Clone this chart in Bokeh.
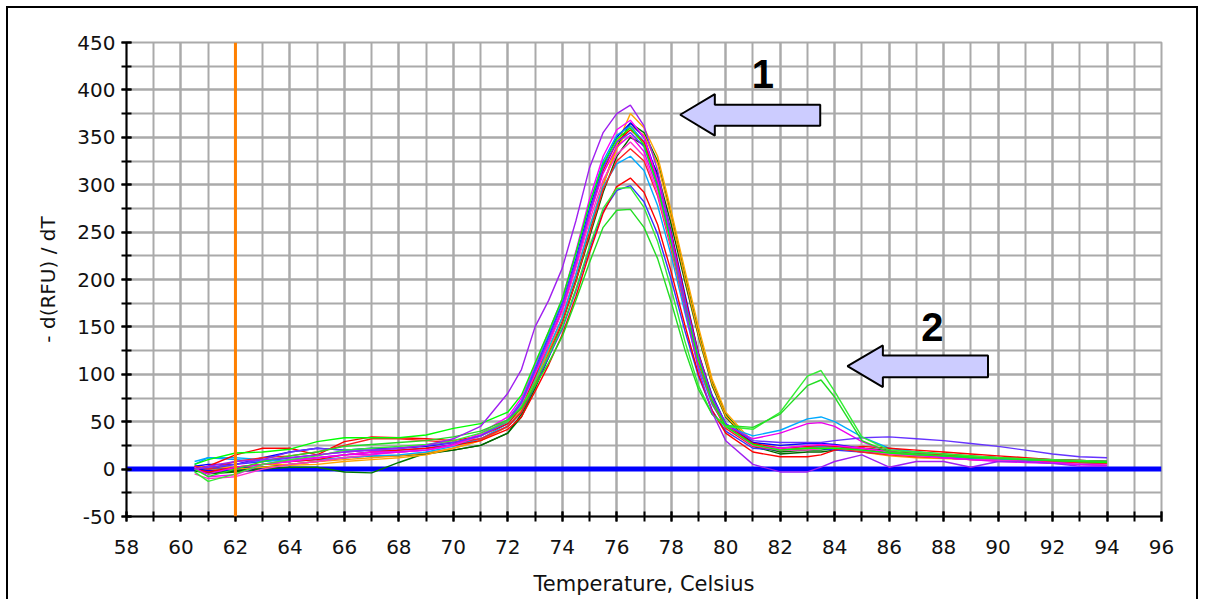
from bokeh.plotting import figure
from bokeh.models import SingleIntervalTicker, Span, Range1d
from bokeh.core.properties import value
from bokeh.embed import file_html
from bokeh.resources import INLINE

# Temperature points (deg C)
temps = [60.5, 61, 62, 63, 64, 65, 66, 67, 68, 69, 70, 71, 72,
         72.5, 73, 73.5, 74, 74.5, 75, 75.5, 76,
         76.5, 77, 77.5, 78, 78.5, 79, 79.5, 80, 81,
         82, 83, 83.5, 84, 85,
         86, 87, 88, 89, 90, 91, 92, 93, 94]

# -d(RFU)/dT melt curves, one list per well
well_purple = [0, 3, 8, 10, 12, 15, 18, 20, 22, 25, 32, 45, 80,
               105, 150, 178, 212, 262, 318, 355, 375,
               384, 362, 315, 245, 170, 105, 60, 30, 5,
               -3, -3, 2, 8, 15,
               2, 8, 8, 2, 8, 8, 6, 3, 3]
well_orange = [2, 0, 0, 2, 4, 5, 8, 10, 12, 15, 22, 30, 45,
               62, 95, 125, 160, 205, 255, 300, 342,
               375, 360, 330, 272, 210, 150, 95, 60, 28,
               20, 22, 22, 22, 22,
               18, 16, 14, 13, 12, 11, 10, 9, 8]
well_dkgreen = [0, -5, -3, 0, 2, 2, -3, -4, 7, 17, 20, 25, 38,
                55, 85, 118, 155, 200, 250, 300, 340,
                365, 355, 325, 268, 205, 145, 92, 58, 25,
                18, 20, 20, 22, 20,
                18, 16, 14, 12, 11, 10, 9, 8, 7]
well_magenta = [2, -8, -6, 5, 8, 12, 15, 18, 18, 20, 25, 38, 55,
                75, 110, 145, 180, 230, 285, 330, 358,
                368, 350, 305, 245, 178, 118, 72, 45, 25,
                22, 25, 26, 25, 22,
                18, 15, 12, 10, 9, 8, 7, 5, 4]
well_blue = [3, 5, 5, 12, 18, 22, 20, 22, 22, 24, 28, 35, 50,
             70, 105, 140, 175, 222, 275, 320, 350,
             365, 350, 308, 250, 185, 122, 78, 48, 28,
             25, 27, 27, 26, 22,
             18, 16, 14, 13, 12, 11, 10, 9, 8]
well_sky = [5, 12, 10, 8, 10, 12, 15, 18, 18, 20, 25, 35, 52,
            72, 108, 142, 178, 228, 280, 325, 352,
            362, 345, 302, 242, 178, 118, 75, 46, 26,
            22, 24, 24, 24, 20,
            16, 14, 13, 12, 10, 9, 8, 7, 7]
well_green = [5, 10, 17, 18, 21, 29, 33, 33, 33, 36, 43, 48, 60,
              78, 112, 145, 180, 228, 280, 322, 348,
              360, 342, 298, 238, 172, 115, 72, 45, 26,
              20, 22, 22, 22, 20,
              17, 15, 14, 13, 12, 10, 9, 8, 7]
well_red = [0, 3, 15, 22, 22, 15, 29, 34, 33, 32, 30, 35, 48,
            65, 98, 132, 168, 215, 268, 315, 345,
            358, 345, 305, 248, 182, 122, 76, 47, 27,
            22, 24, 25, 24, 22,
            18, 16, 15, 13, 12, 11, 9, 8, 7]
well_violet = [0, 2, 5, 10, 18, 22, 20, 20, 22, 25, 28, 35, 50,
               70, 104, 138, 174, 220, 272, 318, 345,
               355, 340, 300, 242, 178, 120, 76, 48, 30,
               28, 28, 28, 30, 33,
               34, 32, 30, 27, 24, 20, 16, 13, 12]
well_magenta2 = [-5, -10, -8, 0, 5, 8, 12, 15, 18, 20, 25, 35, 50,
                 68, 100, 132, 166, 212, 262, 305, 332,
                 345, 330, 290, 235, 172, 115, 72, 45, 25,
                 20, 20, 22, 22, 20,
                 16, 14, 12, 10, 9, 8, 6, 5, 4]
well_red2 = [3, 0, 8, 12, 14, 18, 25, 32, 32, 30, 28, 32, 45,
             60, 90, 122, 155, 198, 248, 295, 325,
             338, 325, 288, 232, 170, 112, 70, 43, 24,
             20, 22, 22, 22, 18,
             15, 13, 12, 10, 9, 8, 8, 7, 6]
well_sky2 = [8, 12, 12, 10, 8, 10, 12, 14, 15, 18, 24, 32, 48,
             65, 96, 128, 160, 205, 255, 298, 322,
             330, 315, 278, 225, 165, 108, 68, 45, 35,
             41, 53, 55, 50, 34,
             22, 18, 15, 13, 11, 10, 9, 8, 8]
well_magenta3 = [0, -5, 2, 5, 10, 12, 15, 16, 18, 20, 26, 36, 52,
                 70, 102, 135, 170, 216, 268, 312, 340,
                 352, 335, 295, 238, 175, 115, 72, 46, 32,
                 38, 48, 49, 45, 29,
                 18, 15, 12, 10, 8, 7, 6, 5, 4]
well_red3 = [0, -3, 2, 5, 8, 10, 15, 18, 20, 22, 25, 30, 42,
             55, 82, 110, 142, 182, 228, 270, 298,
             307, 292, 258, 208, 152, 100, 62, 38, 18,
             13, 13, 15, 20, 24,
             22, 20, 18, 16, 14, 12, 10, 9, 8]
well_blue2 = [2, 0, 5, 8, 12, 15, 18, 20, 20, 22, 26, 32, 45,
              60, 88, 118, 148, 188, 232, 272, 294,
              299, 282, 248, 200, 146, 98, 62, 40, 22,
              20, 22, 22, 20, 18,
              16, 14, 12, 11, 10, 9, 8, 7, 6]
well_green2 = [-3, -13, -5, 5, 10, 14, 20, 22, 24, 26, 30, 38, 50,
               66, 92, 120, 150, 190, 235, 275, 296,
               297, 276, 240, 190, 135, 88, 58, 45, 42,
               60, 98, 104, 82, 34,
               20, 18, 16, 14, 12, 11, 10, 9, 8]
well_green3 = [0, -8, 0, 8, 14, 18, 24, 26, 28, 30, 34, 40, 52,
               64, 88, 112, 140, 178, 218, 255, 273,
               274, 255, 222, 176, 126, 84, 58, 46, 44,
               58, 88, 94, 76, 30,
               18, 16, 14, 12, 11, 10, 9, 8, 8]
well_orange2 = [3, 2, 2, 5, 5, 8, 10, 12, 14, 17, 22, 30, 45,
                62, 94, 126, 160, 205, 254, 300, 338,
                362, 352, 322, 265, 202, 142, 90, 56, 26,
                20, 22, 22, 22, 18,
                14, 12, 11, 10, 10, 9, 8, 7, 6]
well_dkgreen2 = [-2, -4, -2, 2, 5, 8, 12, 14, 14, 16, 20, 25, 38,
                 58, 88, 120, 155, 198, 245, 292, 330,
                 350, 342, 312, 258, 198, 140, 88, 55, 24,
                 16, 18, 18, 20, 22,
                 20, 18, 16, 14, 12, 10, 9, 8, 7]

wells = [well_dkgreen, well_dkgreen2, well_orange, well_orange2, well_blue,
         well_blue2, well_sky, well_sky2, well_red, well_red2, well_red3,
         well_magenta, well_magenta2, well_magenta3, well_violet,
         well_green, well_green2, well_green3, well_purple]
well_colors = ["#007a00", "#006400", "#ffa500", "#ff9900", "#0000ff",
               "#3333ff", "#0099ff", "#00aaff", "#ff0000", "#ff2020", "#ff0000",
               "#ff00ff", "#ff33cc", "#ee00ee", "#6633ff",
               "#00ff00", "#33ee33", "#22dd22", "#a020f0"]

# Arrow annotations (data units)
arrow1_x = [78.33, 79.60, 79.60, 83.47, 83.47, 79.60, 79.60]
arrow1_y = [373.8, 395.6, 384.4, 384.4, 362.2, 362.2, 351.7]
arrow2_x = [84.47, 85.77, 85.77, 89.63, 89.63, 85.77, 85.77]
arrow2_y = [108.6, 130.4, 119.9, 119.9, 97.0, 97.0, 86.5]
label_x = [81.36, 87.59]
label_y = [417.0, 149.7]
label_text = ["1", "2"]

FONT = "DejaVu Sans"
GRID = "#aaaaaa"

p = figure(width=1200, height=599, output_backend="svg", toolbar_location=None,
           x_range=Range1d(58, 96), y_range=Range1d(-50, 450),
           min_border_left=126, min_border_right=39,
           min_border_top=42, min_border_bottom=83,
           background_fill_color="white", border_fill_color=None)
# outer panel frame: left, top and right edges (bottom lies outside the picture)
p.styles = {
    "background-color": "white",
    "background-image": ("linear-gradient(#000,#000), linear-gradient(#000,#000), "
                         "linear-gradient(#000,#000)"),
    "background-size": "2px 100%, 1192px 2px, 2px 100%",
    "background-position": "6px 6px, 6px 6px, 1196px 6px",
    "background-repeat": "no-repeat",
}
p.outline_line_color = GRID
p.outline_line_width = 2

xt = SingleIntervalTicker(interval=2, num_minor_ticks=2)
yt = SingleIntervalTicker(interval=50, num_minor_ticks=2)
p.xaxis.ticker = xt
p.yaxis.ticker = yt
p.xgrid.ticker = xt
p.ygrid.ticker = yt
for g in (p.xgrid, p.ygrid):
    g.grid_line_color = GRID
    g.grid_line_width = 2
    g.minor_grid_line_color = GRID
    g.minor_grid_line_width = 2

for ax in (p.xaxis, p.yaxis):
    ax.axis_line_color = "black"
    ax.axis_line_width = 2
    ax.major_tick_line_color = "black"
    ax.major_tick_line_width = 2
    ax.minor_tick_line_color = "black"
    ax.minor_tick_line_width = 2
    ax.major_tick_in = 5
    ax.major_tick_out = 5
    ax.minor_tick_in = 5
    ax.minor_tick_out = 5
    ax.major_label_text_font = FONT
    ax.major_label_text_font_size = "20px"
    ax.major_label_text_color = "#111111"
    ax.axis_label_text_font = FONT
    ax.axis_label_text_font_style = "normal"
    ax.axis_label_text_color = "#111111"

p.xaxis.axis_label = "Temperature, Celsius"
p.yaxis.axis_label = "- d(RFU) / dT"
p.xaxis.axis_label_text_font_size = "21px"
p.yaxis.axis_label_text_font_size = "20px"
p.yaxis.major_label_overrides = {-50: "-50"}
p.xaxis.major_label_standoff = 18
p.yaxis.major_label_standoff = 6
p.xaxis.axis_label_standoff = 15
p.yaxis.axis_label_standoff = 14

p.add_layout(Span(location=0, dimension="width", line_color="#0000ff",
                  line_width=5, level="underlay"))

for ys, c in zip(wells, well_colors):
    p.line(temps, ys, line_color=c, line_width=1.4)

p.add_layout(Span(location=62, dimension="height", line_color="#ff8000",
                  line_width=3))

for ax_, ay_ in ((arrow1_x, arrow1_y), (arrow2_x, arrow2_y)):
    p.patch(ax_, ay_, fill_color="#ccccff", line_color="black", line_width=2)

p.text(label_x, label_y, text=label_text, text_font=value("Liberation Sans"),
       text_font_style="bold", text_font_size="40px", text_align="center",
       text_baseline="middle", text_color="black")

open("out.html", "w").write(file_html(p, INLINE))
